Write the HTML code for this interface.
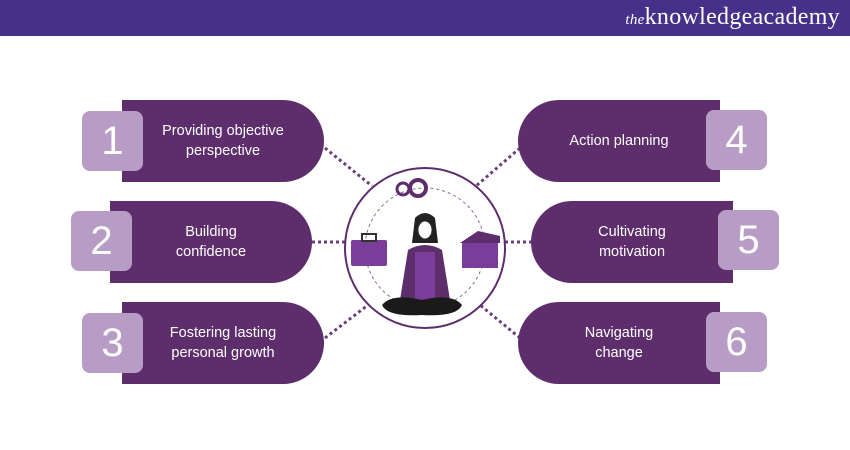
<!DOCTYPE html>
<html><head><style>
body{margin:0;width:850px;height:450px;background:#fff;position:relative;overflow:hidden;font-family:"Liberation Sans",sans-serif}
.hdr{position:absolute;left:0;top:0;width:850px;height:36px;background:#45318a}
.logo{position:absolute;right:10px;top:4px;color:#fff;font-family:"Liberation Serif",serif;font-size:24px;letter-spacing:0.3px}
.logo i{font-size:15px}
.p{position:absolute;height:82px;width:202px;background:#5d2d6c;color:#fff;font-size:14.5px;line-height:20px;display:flex;align-items:center;justify-content:center;text-align:center}
.l{border-radius:0 41px 41px 0}
.r{border-radius:41px 0 0 41px}
.n{position:absolute;width:61px;height:60px;background:#b79cc6;border-radius:8px;color:#fff;font-size:40px;display:flex;align-items:center;justify-content:center}
svg{position:absolute;left:0;top:0}
</style></head><body>
<div class="hdr"><div class="logo"><i>the</i>knowledge<b style="font-weight:normal">academy</b></div></div>
<svg width="850" height="450">
<g stroke="#6a3f7d" stroke-width="3" stroke-dasharray="3 3" fill="none">
<line x1="325" y1="148" x2="372" y2="186"/>
<line x1="312" y1="242" x2="348" y2="242"/>
<line x1="325" y1="338" x2="368" y2="305"/>
<line x1="520" y1="148" x2="476" y2="186"/>
<line x1="532" y1="242" x2="502" y2="242"/>
<line x1="520" y1="338" x2="480" y2="305"/>
</g>
<circle cx="425" cy="248" r="80" fill="none" stroke="#5d2d6c" stroke-width="2"/>
<circle cx="425" cy="248" r="60" fill="none" stroke="#8a6a99" stroke-width="1" stroke-dasharray="3 3"/>
<circle cx="403" cy="189" r="6" fill="none" stroke="#5d2d6c" stroke-width="3"/>
<circle cx="418" cy="188" r="8" fill="none" stroke="#5d2d6c" stroke-width="4"/>
<rect x="351" y="240" width="36" height="26" rx="2" fill="#7a3d9a"/>
<rect x="362" y="234" width="14" height="7" fill="none" stroke="#333" stroke-width="2"/>
<rect x="462" y="242" width="36" height="26" fill="#7a3d9a"/>
<polygon points="460,243 478,231 500,236 500,243" fill="#5d2d6c"/>
<path d="M415 218 q10 -10 20 0 l3 25 -26 0z" fill="#222"/>
<ellipse cx="425" cy="230" rx="7" ry="9" fill="#fff" stroke="#333"/>
<path d="M400 300 l8 -50 q17 -10 34 0 l8 50z" fill="#5d2d6c"/>
<rect x="415" y="252" width="20" height="48" fill="#7a3d9a"/>
<path d="M382 305 q10 -12 40 -5 q30 -7 40 5 q-5 12 -40 10 q-35 2 -40 -10z" fill="#1a1a1a"/>
</svg>
<div class="p l" style="left:122px;top:100px">Providing objective<br>perspective</div>
<div class="n" style="left:82px;top:111px">1</div>
<div class="p l" style="left:110px;top:201px">Building<br>confidence</div>
<div class="n" style="left:71px;top:211px">2</div>
<div class="p l" style="left:122px;top:302px">Fostering lasting<br>personal growth</div>
<div class="n" style="left:82px;top:313px">3</div>
<div class="p r" style="left:518px;top:100px">Action planning</div>
<div class="n" style="left:706px;top:110px">4</div>
<div class="p r" style="left:531px;top:201px">Cultivating<br>motivation</div>
<div class="n" style="left:718px;top:210px">5</div>
<div class="p r" style="left:518px;top:302px">Navigating<br>change</div>
<div class="n" style="left:706px;top:312px">6</div>
</body></html>
